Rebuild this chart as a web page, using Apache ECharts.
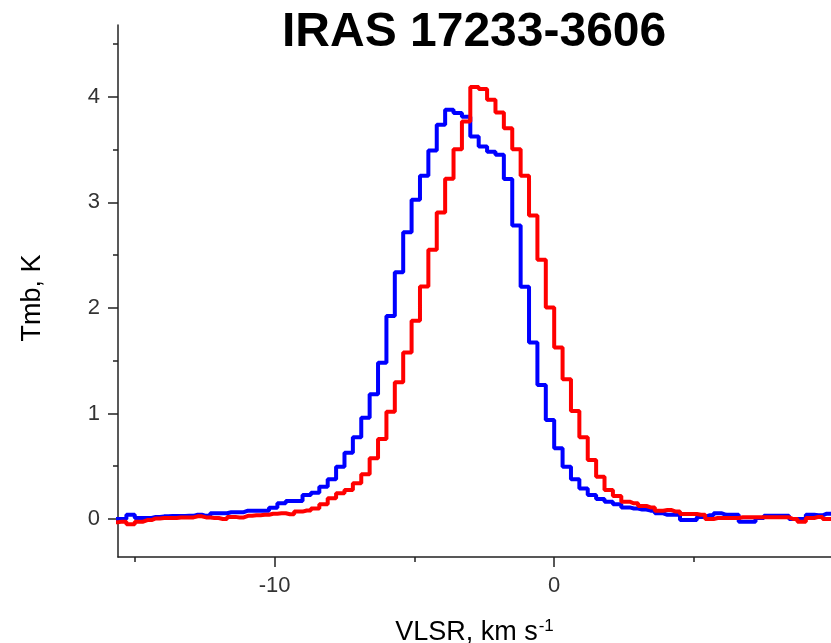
<!DOCTYPE html>
<html>
<head>
<meta charset="utf-8">
<script src="https://cdn.jsdelivr.net/npm/echarts@6/dist/echarts.min.js"></script>
<style>
html,body{margin:0;padding:0;background:#fff;}
#chart{width:831px;height:643px;}
</style>
</head>
<body>
<div id="chart"></div>
<script>
// Channel centre velocities (km/s)
const velocities = [-15.75, -15.45, -15.15, -14.85, -14.55, -14.25, -13.95, -13.65, -13.35, -13.05,
  -12.75, -12.45, -12.15, -11.85, -11.55, -11.25, -10.95, -10.65, -10.35, -10.05,
  -9.75, -9.45, -9.15, -8.85, -8.55, -8.25, -7.95, -7.65, -7.35, -7.05,
  -6.75, -6.45, -6.15, -5.85, -5.55, -5.25, -4.95, -4.65, -4.35, -4.05,
  -3.75, -3.45, -3.15, -2.85, -2.55, -2.25, -1.95, -1.65, -1.35, -1.05,
  -0.75, -0.45, -0.15, 0.15, 0.45, 0.75, 1.05, 1.35, 1.65, 1.95,
  2.25, 2.55, 2.85, 3.15, 3.45, 3.75, 4.05, 4.35, 4.65, 4.95,
  5.25, 5.55, 5.85, 6.15, 6.45, 6.75, 7.05, 7.35, 7.65, 7.95,
  8.25, 8.55, 8.85, 9.15, 9.45, 9.75, 10.05];

// Blue spectrum (Tmb, K)
const blueTmb = [0.0, 0.0, 0.04, 0.01, 0.01, 0.02, 0.025, 0.028, 0.028, 0.03,
  0.04, 0.03, 0.054, 0.054, 0.064, 0.064, 0.079, 0.079, 0.079, 0.107,
  0.149, 0.171, 0.171, 0.227, 0.249, 0.306, 0.376, 0.496, 0.628, 0.774,
  0.960, 1.182, 1.481, 1.924, 2.338, 2.717, 3.024, 3.251, 3.491, 3.735,
  3.877, 3.846, 3.81, 3.624, 3.529, 3.48, 3.45, 3.22, 2.78, 2.20,
  1.671, 1.270, 0.938, 0.670, 0.496, 0.376, 0.29, 0.227, 0.19, 0.164,
  0.14, 0.11, 0.10, 0.09, 0.079, 0.054, 0.04, 0.04, -0.01, -0.01,
  0.02, 0.035, 0.054, 0.04, 0.04, -0.025, -0.025, 0.01, 0.03, 0.03,
  0.03, 0.0, 0.0, 0.04, 0.035, 0.05, 0.05];

// Red spectrum (Tmb, K)
const redTmb = [-0.03, -0.025, -0.05, -0.025, -0.01, 0.005, 0.01, 0.01, 0.015, 0.015,
  0.025, 0.015, 0.01, 0.0, 0.02, 0.015, 0.03, 0.035, 0.04, 0.05,
  0.055, 0.045, 0.07, 0.08, 0.1, 0.14, 0.196, 0.243, 0.275, 0.338,
  0.423, 0.575, 0.758, 1.017, 1.296, 1.577, 1.877, 2.202, 2.550, 2.903,
  3.223, 3.504, 3.766, 4.092, 4.073, 3.972, 3.851, 3.703, 3.504, 3.251,
  2.875, 2.455, 2.003, 1.624, 1.324, 1.024, 0.774, 0.559, 0.401, 0.275,
  0.218, 0.164, 0.149, 0.123, 0.11, 0.079, 0.085, 0.07, 0.047, 0.047,
  0.04, 0.0, 0.01, 0.01, 0.01, 0.016, 0.016, 0.016, 0.016, 0.016,
  0.016, 0.0, -0.025, 0.01, 0.02, 0.0, 0.0];

const xMajorTicks = [-10, 0];
const xMinorTicks = [-15, -5, 5];
const yMajorTicks = [0, 1, 2, 3, 4];
const yMinorTicks = [0.5, 1.5, 2.5, 3.5, 4.5];

const titleText = 'IRAS 17233-3606';
const xName = 'VLSR, km s';
const xNameSup = '-1';
const yName = 'Tmb, K';

const X_MIN = -15.6, X_MAX = 9.9, Y_MIN = -0.36, Y_MAX = 4.68;
const FONT = '"Liberation Sans", Arial, sans-serif';
const axisColor = '#222';

const chart = echarts.init(document.getElementById('chart'), null, {renderer: 'canvas'});
const gridBox = {left: 118, top: 25, width: 713, height: 532, containLabel: false, outerBoundsMode: 'none'};

chart.setOption({
  animation: false,
  backgroundColor: '#fff',
  title: {
    text: titleText,
    left: 277,
    top: 4,
    textStyle: {fontFamily: FONT, fontSize: 48, fontWeight: 'bold', color: '#000'}
  },
  grid: [Object.assign({}, gridBox), Object.assign({}, gridBox)],
  xAxis: [{
    type: 'value', gridIndex: 0, min: X_MIN, max: X_MAX, position: 'bottom',
    axisLine: {show: true, onZero: false, lineStyle: {color: axisColor, width: 1.5}},
    axisTick: {show: true, inside: false, length: 10, customValues: xMajorTicks, lineStyle: {color: axisColor, width: 1.5}},
    axisLabel: {show: true, customValues: xMajorTicks, margin: 18, fontFamily: FONT, fontSize: 22, color: '#333'},
    splitLine: {show: false},
    name: '{a|' + xName + '}{b|' + xNameSup + '}',
    nameLocation: 'middle', nameGap: 61,
    nameTextStyle: {
      fontFamily: FONT, color: '#000',
      rich: {
        a: {fontFamily: FONT, fontSize: 27, color: '#000'},
        b: {fontFamily: FONT, fontSize: 17, color: '#000', verticalAlign: 'top', padding: [0, 0, 12, 1]}
      }
    }
  }, {
    type: 'value', gridIndex: 1, min: X_MIN, max: X_MAX, position: 'bottom',
    axisLine: {show: false, onZero: false},
    axisTick: {show: true, inside: false, length: 5, customValues: xMinorTicks, lineStyle: {color: axisColor, width: 1.5}},
    axisLabel: {show: false},
    splitLine: {show: false}
  }],
  yAxis: [{
    type: 'value', gridIndex: 0, min: Y_MIN, max: Y_MAX, position: 'left',
    axisLine: {show: true, onZero: false, lineStyle: {color: axisColor, width: 1.5}},
    axisTick: {show: true, inside: false, length: 10, customValues: yMajorTicks, lineStyle: {color: axisColor, width: 1.5}},
    axisLabel: {show: true, customValues: yMajorTicks, margin: 18, fontFamily: FONT, fontSize: 22, color: '#333'},
    splitLine: {show: false},
    name: yName, nameLocation: 'middle', nameGap: 72, nameRotate: 90,
    nameTextStyle: {fontFamily: FONT, fontSize: 27, color: '#000', padding: [0, 14, 0, 0]}
  }, {
    type: 'value', gridIndex: 1, min: Y_MIN, max: Y_MAX, position: 'left',
    axisLine: {show: false, onZero: false},
    axisTick: {show: true, inside: false, length: 5, customValues: yMinorTicks, lineStyle: {color: axisColor, width: 1.5}},
    axisLabel: {show: false},
    splitLine: {show: false}
  }],
  series: [{
    name: 'blue', type: 'line', xAxisIndex: 0, yAxisIndex: 0,
    step: 'middle', showSymbol: false, symbol: 'none', clip: true,
    lineStyle: {color: '#0000ff', width: 4},
    data: velocities.map((v, i) => [v, blueTmb[i]])
  }, {
    name: 'red', type: 'line', xAxisIndex: 0, yAxisIndex: 0,
    step: 'middle', showSymbol: false, symbol: 'none', clip: true,
    lineStyle: {color: '#ff0000', width: 4},
    data: velocities.map((v, i) => [v, redTmb[i]])
  }]
});
</script>
</body>
</html>
